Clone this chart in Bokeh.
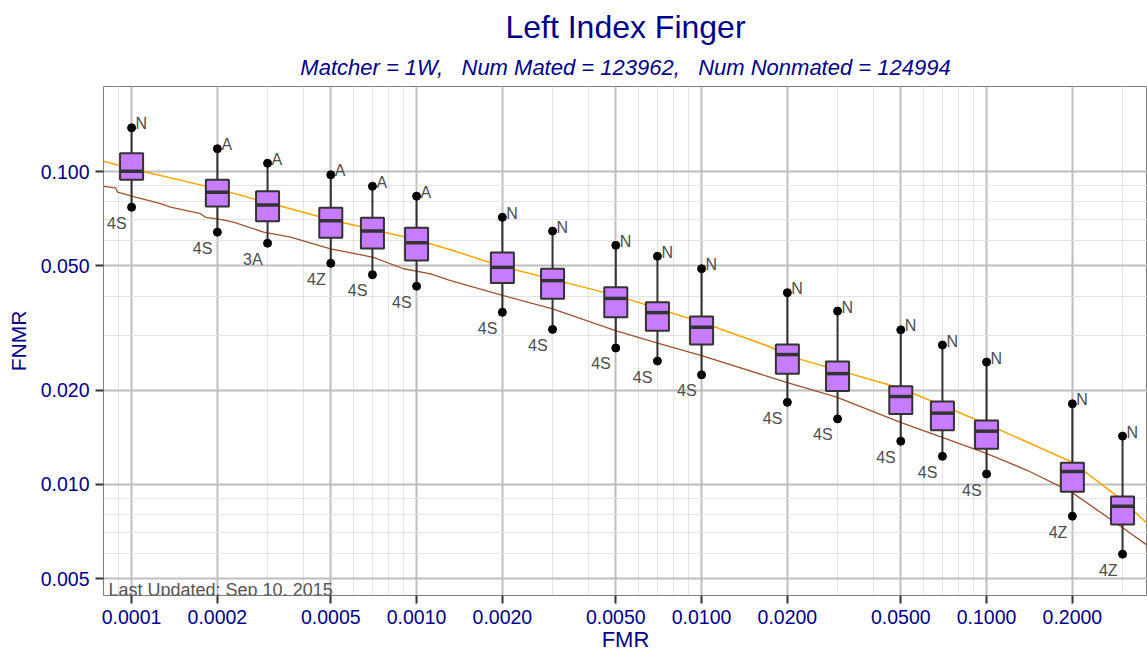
from bokeh.plotting import figure
from bokeh.models import FixedTicker, CustomJSTickFormatter, Title, Label, ColumnDataSource, Range1d
from bokeh.embed import file_html
from bokeh.resources import INLINE
from bokeh.core.properties import value

# ---------------- data ----------------
fmr = [0.0001, 0.0002, 0.0003, 0.0005, 0.0007, 0.001, 0.002, 0.003, 0.005, 0.007,
       0.01, 0.02, 0.03, 0.05, 0.07, 0.1, 0.2, 0.3]
whisker_hi = [0.1379, 0.1182, 0.1063, 0.0976, 0.0897, 0.0834, 0.0714, 0.0645, 0.0581, 0.0536,
              0.0489, 0.0410, 0.0358, 0.0312, 0.0279, 0.0246, 0.0181, 0.01427]
q3 = [0.1144, 0.0941, 0.0865, 0.0766, 0.0711, 0.0661, 0.0551, 0.0489, 0.0427, 0.0382,
      0.0344, 0.0280, 0.0247, 0.0206, 0.0184, 0.0160, 0.01173, 0.00915]
median = [0.1002, 0.0859, 0.0782, 0.0696, 0.0645, 0.0592, 0.0494, 0.0448, 0.0393, 0.0354,
          0.0318, 0.0260, 0.0226, 0.0191, 0.0169, 0.0148, 0.0110, 0.00852]
q1 = [0.0941, 0.0773, 0.0694, 0.0614, 0.0568, 0.0520, 0.0440, 0.0392, 0.0342, 0.0310,
      0.0280, 0.0226, 0.0199, 0.0168, 0.0149, 0.0130, 0.00948, 0.00745]
whisker_lo = [0.0769, 0.0640, 0.0590, 0.0509, 0.0468, 0.0430, 0.0355, 0.0313, 0.0273, 0.0248,
              0.0224, 0.0183, 0.0162, 0.01375, 0.0123, 0.0108, 0.00792, 0.00599]
hi_labels = ["N", "A", "A", "A", "A", "A", "N", "N", "N", "N",
             "N", "N", "N", "N", "N", "N", "N", "N"]
lo_labels = ["4S", "4S", "3A", "4Z", "4S", "4S", "4S", "4S", "4S", "4S",
             "4S", "4S", "4S", "4S", "4S", "4S", "4Z", "4Z"]

orange_fmr = [7.97e-5, 1e-4, 2e-4, 5e-4, 1e-3, 1.316e-3, 2e-3, 5e-3, 1e-2, 1.746e-2,
              2e-2, 5e-2, 0.1, 0.2, 0.3, 0.367]
orange_fnmr = [0.1079, 0.1020, 0.0880, 0.0701, 0.0605, 0.0562, 0.0497, 0.0402, 0.0330, 0.0275,
               0.0258, 0.0203, 0.0156, 0.01178, 0.00889, 0.00749]

brown_fmr = [7.97e-5, 8.79e-5, 8.93e-5, 1.033e-4, 1.264e-4, 1.370e-4, 1.746e-4, 1.818e-4,
             2.003e-4, 2.28e-4, 2.905e-4, 3.613e-4, 4.99e-4, 7.06e-4, 9.0e-4, 1.12e-3,
             1.316e-3, 2.003e-3, 3.0e-3, 4.99e-3, 7.01e-3, 0.01, 0.01746, 0.01987,
             0.02977, 0.0499, 0.0695, 0.0992, 0.1393, 0.1987, 0.2977, 0.3672]
brown_fnmr = [0.0896, 0.0887, 0.0859, 0.0828, 0.0790, 0.0769, 0.0733, 0.0714,
              0.0706, 0.0689, 0.0640, 0.0617, 0.0566, 0.0532, 0.0489, 0.0471,
              0.0448, 0.0402, 0.0364, 0.0310, 0.0283, 0.0258, 0.0220, 0.0212,
              0.0190, 0.0158, 0.01416, 0.01259, 0.01108, 0.00945, 0.00731, 0.00638]

x_ticks = [0.0001, 0.0002, 0.0005, 0.001, 0.002, 0.005, 0.01, 0.02, 0.05, 0.1, 0.2]
x_tick_labels = ["0.0001", "0.0002", "0.0005", "0.0010", "0.0020", "0.0050",
                 "0.0100", "0.0200", "0.0500", "0.1000", "0.2000"]
x_minor = [0.00009, 0.0003, 0.0004, 0.0006, 0.0007, 0.0008, 0.0009,
           0.003, 0.004, 0.006, 0.007, 0.008, 0.009,
           0.03, 0.04, 0.06, 0.07, 0.08, 0.09, 0.3]
y_ticks = [0.005, 0.01, 0.02, 0.05, 0.1]
y_tick_labels = ["0.005", "0.010", "0.020", "0.050", "0.100"]
y_minor = [0.006, 0.007, 0.008, 0.009, 0.03, 0.04, 0.06, 0.07, 0.08, 0.09]

title_text = "Left Index Finger"
subtitle_text = "Matcher = 1W, \u00a0\u00a0Num Mated = 123962, \u00a0\u00a0Num Nonmated = 124994"
note_text = "Last Updated: Sep 10, 2015"

# ---------------- styles ----------------
FONT = "Liberation Sans"
BLUE = "#00008B"
GREY_TXT = "#4D4D4D"
DARK = "#333333"
BOX_FACTOR = 10 ** 0.0404   # half box width (~11.5 px) on the log axis

box_left = [f / BOX_FACTOR for f in fmr]
box_right = [f * BOX_FACTOR for f in fmr]

p = figure(width=1147, height=654, x_axis_type="log", y_axis_type="log",
           x_range=Range1d(7.97e-5, 0.367), y_range=Range1d(0.004418, 0.1869),
           output_backend="svg", toolbar_location=None, title=None,
           min_border_left=103, min_border_right=0, min_border_top=86, min_border_bottom=59)
p.background_fill_color = "white"
p.border_fill_color = "white"
p.outline_line_color = "#7F7F7F"
p.outline_line_width = 1

fmt_code = """
let best = 0, bd = Infinity;
for (let i = 0; i < tk.length; i++) {
  const d = Math.abs(Math.log(tick) - Math.log(tk[i]));
  if (d < bd) { bd = d; best = i; }
}
return lbl[best];
"""
p.xaxis.ticker = FixedTicker(ticks=x_ticks, minor_ticks=x_minor)
p.yaxis.ticker = FixedTicker(ticks=y_ticks, minor_ticks=y_minor)
p.xaxis.formatter = CustomJSTickFormatter(args=dict(tk=x_ticks, lbl=x_tick_labels), code=fmt_code)
p.yaxis.formatter = CustomJSTickFormatter(args=dict(tk=y_ticks, lbl=y_tick_labels), code=fmt_code)

for ax in (p.xaxis[0], p.yaxis[0]):
    ax.axis_line_color = None
    ax.major_tick_line_color = DARK
    ax.major_tick_line_width = 2
    ax.major_tick_out = 8
    ax.major_tick_in = 0
    ax.minor_tick_line_color = None
    ax.major_label_text_font = FONT
    ax.major_label_text_font_size = "19.5px"
    ax.major_label_text_color = BLUE
    ax.axis_label_text_font = FONT
    ax.axis_label_text_color = BLUE
    ax.axis_label_text_font_style = "normal"

p.xaxis.axis_label = "FMR"
p.xaxis.axis_label_text_font_size = "22px"
p.xaxis.axis_label_standoff = 0
p.xaxis.major_label_standoff = 6
p.yaxis.axis_label = "FNMR"
p.yaxis.axis_label_text_font_size = "21px"
p.yaxis.axis_label_standoff = 8
p.yaxis.major_label_standoff = 6

for g in (p.xgrid[0], p.ygrid[0]):
    g.grid_line_color = "#BEBEBE"
    g.grid_line_width = 2
    g.minor_grid_line_color = "#E3E3E3"
    g.minor_grid_line_width = 1

# titles (first added sits closest to the plot)
p.add_layout(Title(text=subtitle_text, text_font=FONT, text_font_size="22px",
                   text_font_style="italic", text_color=BLUE, align="center", standoff=14), "above")
p.add_layout(Title(text=title_text, text_font=FONT, text_font_size="32px",
                   text_font_style="normal", text_color=BLUE, align="center", standoff=2), "above")

# curves
p.line(brown_fmr, brown_fnmr, line_color="#A0522D", line_width=1.3)
p.line(orange_fmr, orange_fnmr, line_color="#FFA500", line_width=1.5)

src = ColumnDataSource(dict(fmr=fmr, hi=whisker_hi, q3=q3, med=median, q1=q1, lo=whisker_lo,
                            bl=box_left, br=box_right, hil=hi_labels, lol=lo_labels))

p.segment(x0="fmr", y0="lo", x1="fmr", y1="hi", source=src, line_color=DARK, line_width=2)
p.quad(left="bl", right="br", top="q3", bottom="q1", source=src,
       fill_color="#C77CFF", line_color=DARK, line_width=2)
p.scatter(x="fmr", y="med", source=src, marker="dash", size=23, line_color=DARK, line_width=3.5)
p.scatter(x="fmr", y="hi", source=src, size=8, fill_color="black", line_color="black")
p.scatter(x="fmr", y="lo", source=src, size=8, fill_color="black", line_color="black")

p.text(x="fmr", y="hi", text="hil", source=src, x_offset=4, y_offset=-4,
       text_align="left", text_baseline="alphabetic", text_font=value(FONT),
       text_font_size="16px", text_color=GREY_TXT)
p.text(x="fmr", y="lo", text="lol", source=src, x_offset=-5, y_offset=16,
       text_align="right", text_baseline="alphabetic", text_font=value(FONT),
       text_font_size="16px", text_color=GREY_TXT)

p.add_layout(Label(x=5, y=6, x_units="screen", y_units="screen", text=note_text,
                   text_font=FONT, text_font_size="18px", text_color="#555555",
                   text_align="left", text_baseline="alphabetic"))

open("out.html", "w").write(file_html(p, INLINE))
